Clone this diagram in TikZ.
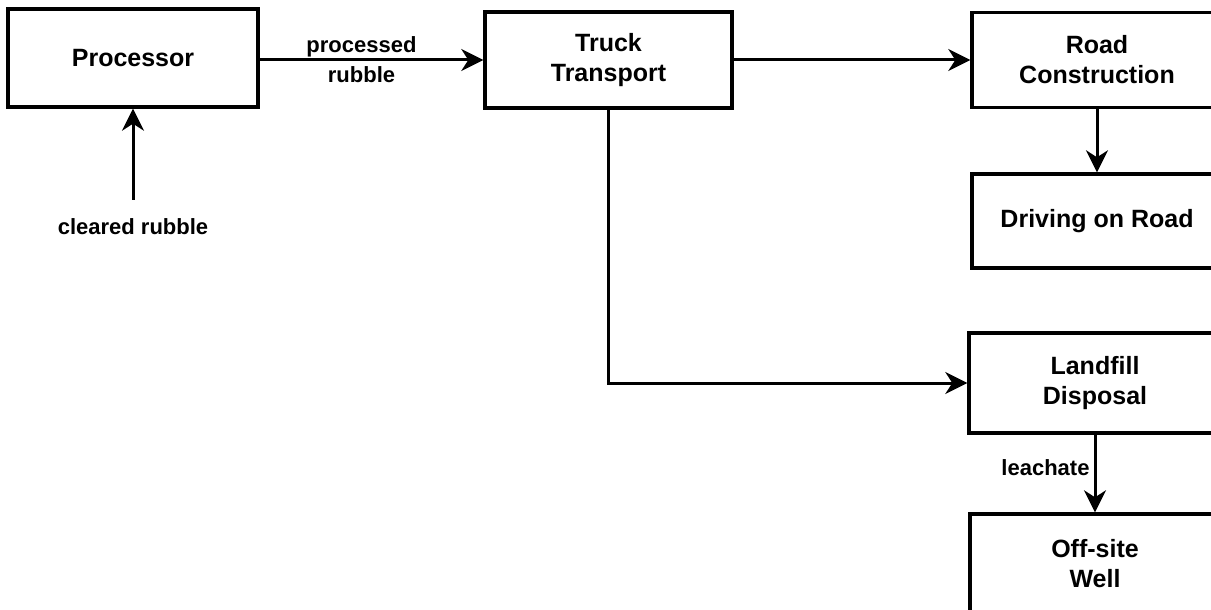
\documentclass[tikz,border=0pt]{standalone}
\usepackage{fontspec}
\setmainfont{Liberation Sans}
\usetikzlibrary{arrows.meta}
\begin{document}
\begin{tikzpicture}[x=1pt,y=-1pt,
  box/.style={draw, line width=3.4pt, minimum width=250pt, minimum height=98pt, inner sep=0pt, align=center, font=\fontsize{25}{30}\selectfont\bfseries},
  lbl/.style={font=\fontsize{22}{30}\selectfont\bfseries, inner sep=0pt, align=center},
  arr/.style={line width=3pt, -{Stealth[length=22pt,width=22pt,inset=7pt]}},
]
\useasboundingbox (0,0) rectangle (1211,610);
\clip (0,0) rectangle (1211,610);
\node[box, minimum width=250pt, minimum height=98pt] (P) at (133,58) {Processor};
\node[box, minimum width=247pt, minimum height=96pt] (T) at (608.5,60) {Truck\\Transport};
\node[box, minimum height=95pt] (R) at (1097,60) {Road\\Construction};
\node[box, minimum height=94pt] (D) at (1097,221) {Driving on Road};
\node[box, minimum width=252pt, minimum height=100pt] (L) at (1095,383) {Landfill\\Disposal};
\node[box, minimum height=100pt] (O) at (1095,564) {Off-site\\Well};
\node[lbl] (cr) at (133,227) {cleared rubble};

\draw[arr] (P.east |- T.west) -- (T.west);
\path (P.east |- T.west) -- node[lbl, xshift=-10pt] {processed\\rubble} (T.west);
\draw[arr] (T.east) -- (T.east -| R.west);
\draw[arr] (R.south) -- (D.north);
\draw[arr] (T.south) |- (L.west);
\draw[arr] (L.south) -- node[lbl, anchor=east, pos=0.42, xshift=-4pt] {leachate} (O.north);
\draw[arr] ([yshift=19pt]cr.north) -- (P.south);
\end{tikzpicture}
\end{document}
